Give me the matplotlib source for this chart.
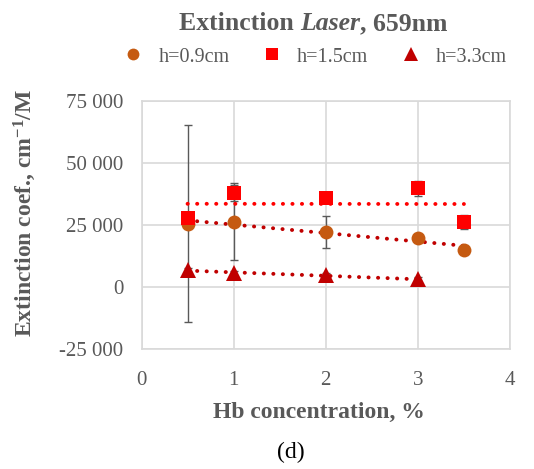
import numpy as np
import matplotlib
matplotlib.use("Agg")
import matplotlib.pyplot as plt
from matplotlib.ticker import FuncFormatter

plt.rcParams["font.family"] = ["Liberation Serif", "DejaVu Serif"]
plt.rcParams["mathtext.fontset"] = "custom"
plt.rcParams["mathtext.rm"] = "Liberation Serif:bold"
plt.rcParams["mathtext.default"] = "rm"

# Hb concentration (%) and extinction coefficients per sample thickness
x_09 = [0.5, 1, 2, 3, 3.5]
y_09 = [25500, 26200, 22000, 19800, 15000]
err_09 = [39700, 15500, 6400, 800, 1500]

x_15 = [0.5, 1, 2, 3, 3.5]
y_15 = [27600, 37800, 36000, 39700, 26200]
err_15 = [1500, 3200, 2300, 3000, 2700]

x_33 = [0.5, 1, 2, 3]
y_33 = [6700, 5600, 4700, 3000]
err_33 = [800, 800, 800, 800]

labels = ["h=0.9cm", "h=1.5cm", "h=3.3cm"]
x_ticks = [0, 1, 2, 3, 4]
y_ticks = [-25000, 0, 25000, 50000, 75000]

TEXT = "#595959"
GRID = "#D9D9D9"

fig = plt.figure(figsize=(5.34, 4.69), dpi=100)
ax = fig.add_axes([0.265, 0.256, 0.69, 0.529])

series = [
    (x_09, y_09, err_09, "o", "#C55A11", "#C00000", 10.0),
    (x_15, y_15, err_15, "s", "#FF0000", "#FF0000", 9.8),
    (x_33, y_33, err_33, "^", "#C00000", "#C00000", 12.0),
]

handles = []
for (xs, ys, es, mk, col, tcol, ms), lab in zip(series, labels):
    ax.errorbar(xs, ys, yerr=es, fmt="none", ecolor="#595959", elinewidth=1.0,
                capsize=3.0, capthick=1.0, zorder=2)
    coef = np.polyfit(xs, ys, 1)
    xt = np.array([min(xs), max(xs)])
    ax.plot(xt, np.polyval(coef, xt), color=tcol, lw=2.8,
            linestyle=(0, (0.05, 2.4)), dash_capstyle="round", zorder=3)
    h, = ax.plot(xs, ys, linestyle="none", marker=mk, color=col,
                 markersize=ms, markeredgewidth=0, zorder=4, label=lab)
    handles.append(h)

ax.set_xlim(0, 4)
ax.set_ylim(-25000, 75000)
ax.set_xticks(x_ticks)
ax.set_yticks(y_ticks)
ax.yaxis.set_major_formatter(FuncFormatter(lambda v, p: f"{v:,.0f}".replace(",", " ")))
ax.grid(True, color=GRID, lw=1.2)
ax.set_axisbelow(True)
for s in ax.spines.values():
    s.set_color(GRID)
    s.set_linewidth(1.2)
ax.tick_params(length=0, labelsize=15, colors=TEXT)
ax.tick_params(axis="y", pad=13)
ax.tick_params(axis="x", pad=16)

ax.set_xlabel("Hb concentration, %", fontsize=17, fontweight="bold", color=TEXT)
ax.set_ylabel("Extinction coef., cm$^{-1}$/M", fontsize=17, fontweight="bold", color=TEXT)
ax.xaxis.set_label_coords(0.481, -0.215)
ax.yaxis.set_label_coords(-0.28, 0.55)

# Title with an italic word in the middle
parts = [("Extinction ", "normal"), ("Laser", "italic"), (", 659nm", "normal")]
fig.canvas.draw()
r = fig.canvas.get_renderer()
texts = []
widths = []
for s, st in parts:
    t = fig.text(0, 0, s, fontsize=18.5, fontweight="bold", style=st, color=TEXT,
                 va="baseline", ha="left")
    texts.append(t)
    widths.append(t.get_window_extent(r).width)
total = sum(widths)
x0 = (313 - total / 2) / 534
ybase = 1 - 30 / 469
cur = x0
for t, w in zip(texts, widths):
    t.set_position((cur, ybase))
    cur += w / 534

fig.legend(handles=handles, labels=labels, loc="center", bbox_to_anchor=(0.59, 1 - 57 / 469),
           ncol=3, frameon=False, fontsize=14.5, handlelength=1.0, handletextpad=0.75,
           columnspacing=1.6, labelcolor=TEXT, markerscale=0.85)

fig.text(0.545, 1 - 452 / 469, "(d)", fontsize=17, ha="center", va="center", color="black")

fig.savefig("out.png", dpi=100)
